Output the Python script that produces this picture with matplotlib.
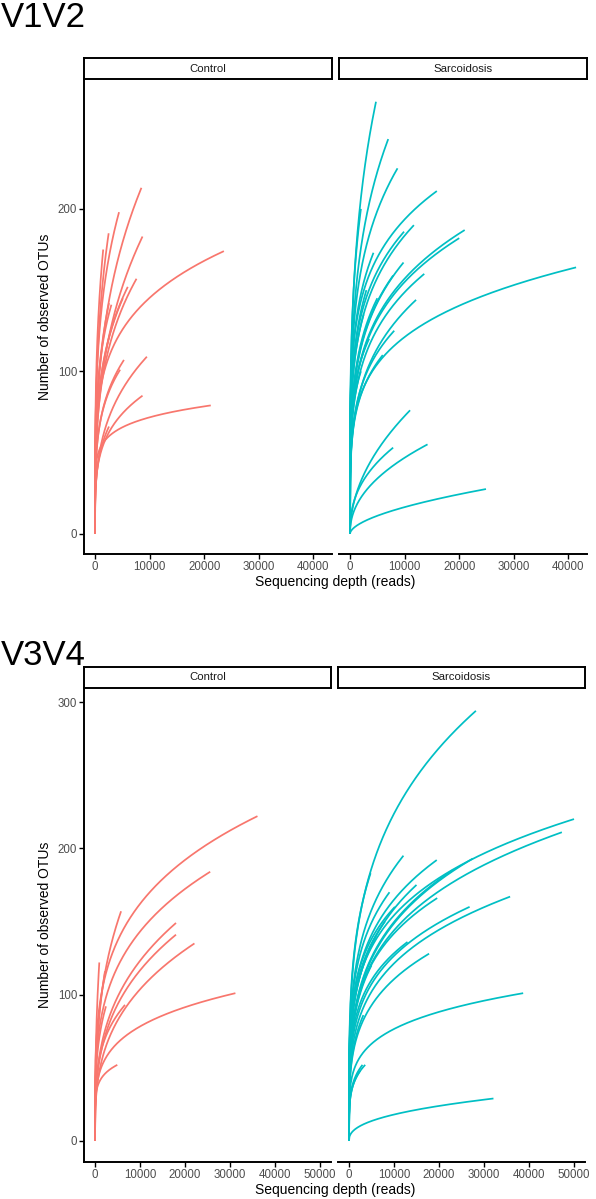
import numpy as np
import matplotlib
matplotlib.use("Agg")
import matplotlib.pyplot as plt

plt.rcParams['font.family'] = ['Liberation Sans', 'DejaVu Sans']

RED = "#F8766D"
CYAN = "#00BFC4"

groups = ["Control", "Sarcoidosis"]

# ---- V1V2 : per-curve end depth, end OTUs, OTUs at quarter of end depth ----
v12_ctrl_depth = [8500, 4400, 2500, 8700, 23600, 7600, 5100, 3000, 2560, 5300, 9500, 4600, 8700, 21200, 2560, 1500, 6000]
v12_ctrl_otu   = [213, 198, 185, 183, 174, 157, 145, 141, 142, 107, 109, 101, 85, 79, 66, 175, 152]
v12_ctrl_q     = [135, 135, 120, 115, 130, 105, 100, 100, 95, 75, 70, 72, 60, 66, 45, 115, 105]

v12_sarc_depth = [4760, 7000, 8700, 15900, 21000, 20000, 41400, 11700, 9900, 4300, 9800, 13600, 12100,
                  7900, 8100, 6000, 11000, 7900, 14200, 24900, 2000, 3000, 2500, 5000, 3500, 2000]
v12_sarc_otu   = [266, 243, 225, 211, 187, 182, 164, 190, 186, 173, 167, 160, 144,
                  159, 125, 110, 76, 53, 55, 27.5, 200, 150, 135, 145, 120, 100]
v12_sarc_q     = [178, 170, 165, 163, 135, 132, 122, 140, 140, 130, 120, 115, 100,
                  115, 90, 80, 38, 30, 29, 12.5, 140, 110, 100, 105, 90, 75]

# ---- V3V4 ----
v34_ctrl_depth = [36100, 25600, 5800, 18000, 18000, 22100, 31200, 960, 2220, 4960, 2440, 6670]
v34_ctrl_otu   = [222, 184, 157, 149, 141, 135, 101, 122, 116, 52, 92, 93]
v34_ctrl_q     = [158, 127, 100, 95, 90, 85, 74, 70, 70, 42, 62, 65]

v34_sarc_depth = [28200, 50000, 47300, 35800, 26800, 19600, 19500, 27500, 12100, 4800, 17800, 38700,
                  32100, 13000, 3600, 10200, 8000, 6000, 15000, 23000, 3000, 2500, 5000, 9000, 3200]
v34_sarc_otu   = [294, 220, 211, 167, 160, 166, 192, 193, 195, 183, 128, 101,
                  29, 136, 52, 160, 150, 140, 175, 185, 52, 48, 120, 170, 86]
v34_sarc_q     = [204, 162, 150, 118, 115, 120, 140, 135, 140, 130, 90, 76,
                  16.5, 100, 38, 120, 110, 100, 125, 130, 38, 35, 85, 125, 60]

panels = [
    dict(title="V1V2", top=58, strip_h=21, ax_top=79, ax_bot=554,
         lefts=[84, 339], width=248,
         xlim=(-2015, 43400), ylim=(-12.5, 280),
         xticks=[0, 10000, 20000, 30000, 40000], yticks=[0, 100, 200],
         data=[(v12_ctrl_depth, v12_ctrl_otu, v12_ctrl_q, RED),
               (v12_sarc_depth, v12_sarc_otu, v12_sarc_q, CYAN)],
         title_y=1, xlabel_y=582),
    dict(title="V3V4", top=667, strip_h=21, ax_top=688, ax_bot=1162,
         lefts=[84, 338], width=247,
         xlim=(-2440, 52440), ylim=(-14.4, 309.6),
         xticks=[0, 10000, 20000, 30000, 40000, 50000], yticks=[0, 100, 200, 300],
         data=[(v34_ctrl_depth, v34_ctrl_otu, v34_ctrl_q, RED),
               (v34_sarc_depth, v34_sarc_otu, v34_sarc_q, CYAN)],
         title_y=639, xlabel_y=1190),
]

W, H = 596, 1199
fig = plt.figure(figsize=(W / 100, H / 100), dpi=100)

def fx(px):
    return px / W

def fy(py):
    return 1 - py / H

for p in panels:
    fig.text(fx(1), fy(p["title_y"]), p["title"], fontsize=25, va="top", ha="left", color="black")
    for i, (g, (dep, otu, q, col)) in enumerate(zip(groups, p["data"])):
        left = p["lefts"][i]
        ax = fig.add_axes([fx(left), fy(p["ax_bot"]), p["width"] / W, (p["ax_bot"] - p["ax_top"]) / H])
        for d, o, qq in zip(dep, otu, q):
            expo = np.log(qq / o) / np.log(0.25)
            xs = np.linspace(0, d, 300)
            ys = o * (xs / d) ** expo
            ax.plot(xs, ys, color=col, lw=1.25, solid_capstyle="butt")
        ax.set_xlim(*p["xlim"])
        ax.set_ylim(*p["ylim"])
        ax.set_xticks(p["xticks"])
        ax.set_xticklabels([str(t) for t in p["xticks"]])
        for s in ["top", "right"]:
            ax.spines[s].set_visible(False)
        ax.spines["bottom"].set_linewidth(1.4)
        ax.spines["left"].set_linewidth(1.4)
        ax.tick_params(axis="both", length=3.5, width=1.0, color="black",
                       labelsize=8.3, labelcolor="#4D4D4D", pad=1.5)
        if i == 0:
            ax.set_yticks(p["yticks"])
            ax.set_yticklabels([str(t) for t in p["yticks"]])
            ax.set_ylabel("Number of observed OTUs", fontsize=10, color="black", labelpad=4)
        else:
            ax.spines["left"].set_visible(False)
            ax.set_yticks([])
        # strip
        sax = fig.add_axes([fx(left), fy(p["ax_top"]), p["width"] / W, p["strip_h"] / H])
        sax.set_xticks([])
        sax.set_yticks([])
        for s in sax.spines.values():
            s.set_linewidth(1.4)
            s.set_color("black")
        sax.text(0.5, 0.5, g, ha="center", va="center", fontsize=8.2, color="#1A1A1A",
                 transform=sax.transAxes)
    fig.text(fx((84 + 586) / 2), fy(p["xlabel_y"]), "Sequencing depth (reads)", fontsize=10,
             ha="center", va="center", color="black")

fig.savefig("out.png", dpi=100)
